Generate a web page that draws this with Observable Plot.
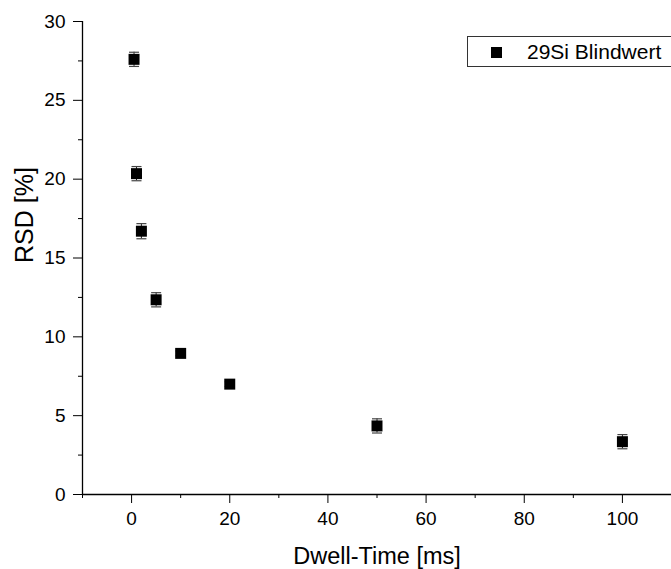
<!DOCTYPE html>
<html>
<head>
<meta charset="utf-8">
<script src="https://cdn.jsdelivr.net/npm/d3@7"></script>
<script src="https://cdn.jsdelivr.net/npm/@observablehq/plot@0.6"></script>
<style>
html, body { margin: 0; padding: 0; overflow: hidden; background: #fff; }
#wrap { position: relative; width: 671px; height: 569px; overflow: hidden; font-family: "Liberation Sans", Arial, sans-serif; }
#legend { position: absolute; left: 467px; top: 36px; width: 240px; height: 31px; border: 1px solid #333; box-sizing: border-box; background: #fff; }
#legend .sw { position: absolute; left: 23px; top: 10px; width: 11px; height: 11px; background: #000; }
#legend .lb { position: absolute; left: 59px; top: 4px; font-size: 21px; line-height: 21px; color: #000; white-space: nowrap; }
</style>
</head>
<body>
<div id="wrap"></div>
<script>
const seriesName = "29Si Blindwert";
const xTitle = "Dwell-Time [ms]";
const yTitle = "RSD [%]";
const dwell = [0.5, 1, 2, 5, 10, 20, 50, 100];
const rsd = [27.6, 20.35, 16.7, 12.35, 8.95, 7.0, 4.35, 3.35];
const err = [0.45, 0.45, 0.48, 0.45, 0.15, 0.15, 0.45, 0.45];
const xMajor = [0, 20, 40, 60, 80, 100];
const xMinor = [-10, 10, 30, 50, 70, 90, 110];
const yMajor = [0, 5, 10, 15, 20, 25, 30];
const yMinor = [2.5, 7.5, 12.5, 17.5, 22.5, 27.5];

const data = dwell.map((d, i) => ({x: d, y: rsd[i], lo: rsd[i] - err[i], hi: rsd[i] + err[i]}));

const capSymbol = {
  draw(context, size) {
    context.moveTo(-5, 0);
    context.lineTo(5, 0);
  }
};

const font = "Liberation Sans, Arial, sans-serif";

const chart = Plot.plot({
  width: 671,
  height: 569,
  marginLeft: 82,
  marginRight: 0,
  marginTop: 21,
  marginBottom: 75,
  style: {fontFamily: font, color: "#000", background: "#fff", overflow: "visible"},
  x: {domain: [-10, 110], label: null},
  y: {domain: [0, 30], label: null},
  marks: [
    Plot.axisX(xMinor, {tickSize: 4, tickFormat: () => "", stroke: "#000"}),
    Plot.axisX(xMajor, {tickSize: 9, tickPadding: 8, fontSize: 19, stroke: "#000", fill: "#000"}),
    Plot.axisY(yMinor, {tickSize: 4, tickFormat: () => "", stroke: "#000"}),
    Plot.axisY(yMajor, {tickSize: 9, tickPadding: 8, fontSize: 19, stroke: "#000", fill: "#000"}),
    Plot.ruleY([0], {stroke: "#000", strokeWidth: 1.3}),
    Plot.ruleX([-10], {stroke: "#000", strokeWidth: 1.3}),
    Plot.ruleX(data, {x: "x", y1: "lo", y2: "hi", stroke: "#222", strokeWidth: 1}),
    Plot.dot(data, {x: "x", y: "lo", symbol: capSymbol, stroke: "#444", strokeWidth: 1.2, fill: "none", r: 3}),
    Plot.dot(data, {x: "x", y: "hi", symbol: capSymbol, stroke: "#444", strokeWidth: 1.2, fill: "none", r: 3}),
    Plot.dot(data, {x: "x", y: "y", symbol: "square", r: 6.2, fill: "#000", stroke: "none"}),
    Plot.text([xTitle], {frameAnchor: "bottom", dy: 62, fontSize: 23.5, fill: "#000", lineAnchor: "middle"}),
    Plot.text([yTitle], {frameAnchor: "left", dx: -58, dy: 5, rotate: -90, fontSize: 25, fill: "#000", lineAnchor: "middle"})
  ]
});

const wrap = document.getElementById("wrap");
wrap.appendChild(chart);
const legend = document.createElement("div");
legend.id = "legend";
legend.innerHTML = '<div class="sw"></div><div class="lb"></div>';
legend.querySelector(".lb").textContent = seriesName;
wrap.appendChild(legend);
</script>
</body>
</html>
